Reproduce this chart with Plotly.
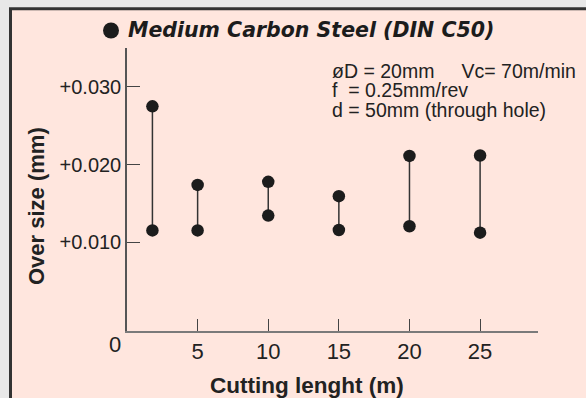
import plotly.graph_objects as go

# Cutting length (m) and the min / max over size (mm) measured at each length
cutting_length = [1.8, 5, 10, 15, 20, 25]
oversize_min = [0.0115, 0.0115, 0.01341, 0.01155, 0.01203, 0.01121]
oversize_max = [0.0275, 0.01737, 0.01776, 0.01591, 0.02111, 0.02116]

x_ticks = [5, 10, 15, 20, 25]
y_ticks = [0.010, 0.020, 0.030]
y_tick_labels = ["+0.010", "+0.020", "+0.030"]

title_text = "<b><i>Medium Carbon Steel (DIN C50)</i></b>"
NB = "\u00a0"
condition_lines = [
    "øD = 20mm" + NB * 5 + "Vc= 70m/min",
    "f" + NB * 2 + "= 0.25mm/rev",
    "d = 50mm (through hole)",
]

W, H = 586, 398
ML, MR, MT, MB = 127, 48, 48, 67
PW, PH = W - ML - MR, H - MT - MB


def px(x):
    return (x - ML) / PW


def py(y):
    return (H - MB - y) / PH


INK = "#1c1c1c"
TXT = "#222222"
FONT = "Liberation Sans, Arial, sans-serif"

# range bars joining min and max
lx, ly = [], []
for x, lo, hi in zip(cutting_length, oversize_min, oversize_max):
    lx += [x, x, None]
    ly += [lo, hi, None]

fig = go.Figure()
fig.add_trace(go.Scatter(x=lx, y=ly, mode="lines",
                         line=dict(color="#333333", width=1.5),
                         hoverinfo="skip", showlegend=False))
fig.add_trace(go.Scatter(x=cutting_length + cutting_length,
                         y=oversize_min + oversize_max,
                         mode="markers",
                         marker=dict(color=INK, size=12.5, line=dict(width=0)),
                         showlegend=False))

annotations = [
    dict(text=title_text, x=px(126), y=py(30), xanchor="left", yanchor="middle",
         font=dict(size=20.5, color=INK, family="DejaVu Sans")),
    dict(text="0", x=px(114.5), y=py(344), xanchor="center", yanchor="middle",
         font=dict(size=22, color=TXT, family=FONT)),
    dict(text="<b>Over size (mm)</b>", x=px(36), y=py(206), textangle=-90,
         xanchor="center", yanchor="middle",
         font=dict(size=22, color=TXT, family=FONT)),
    dict(text="<b>Cutting lenght (m)</b>", x=px(306.5), y=py(385),
         xanchor="center", yanchor="middle",
         font=dict(size=22.5, color=TXT, family=FONT)),
]
for i, line in enumerate(condition_lines):
    annotations.append(dict(text=line, x=px(330), y=py(71 + 19.5 * i),
                            xanchor="left", yanchor="middle",
                            font=dict(size=19.5, color=TXT, family=FONT)))
for a in annotations:
    a.update(xref="paper", yref="paper", showarrow=False)

fig.update_layout(
    width=W, height=H,
    margin=dict(l=ML, r=MR, t=MT, b=MB),
    paper_bgcolor="#e8e8e8",
    plot_bgcolor="rgba(0,0,0,0)",
    font=dict(family=FONT, color=TXT),
    annotations=annotations,
    shapes=[
        dict(type="rect", xref="paper", yref="paper", layer="below",
             x0=px(10.5), x1=px(W + 20), y0=py(H + 20), y1=py(8.7),
             fillcolor="#FFE6DE", line=dict(color="#333333", width=3)),
        # bullet in front of the title
        dict(type="circle", xref="paper", yref="paper",
             x0=px(103), x1=px(119), y0=py(38.5), y1=py(22.5),
             fillcolor=INK, line=dict(width=0)),
    ],
    xaxis=dict(range=[0, 29.1], tickvals=x_ticks, ticks="inside", ticklen=12,
               tickcolor="#444444", tickwidth=1.2, showgrid=False, zeroline=False,
               showline=True, linecolor="#7a7a7a", linewidth=2,
               tickfont=dict(size=22, color=TXT), fixedrange=True),
    yaxis=dict(range=[-0.00148, 0.03503], tickvals=y_ticks, ticktext=y_tick_labels,
               ticks="inside", ticklen=13, tickcolor="#444444", tickwidth=1.2,
               showgrid=False, zeroline=False, showline=True,
               linecolor="#555555", linewidth=1.5,
               tickfont=dict(size=20, color=TXT), fixedrange=True),
)

fig.write_html("out.html")
